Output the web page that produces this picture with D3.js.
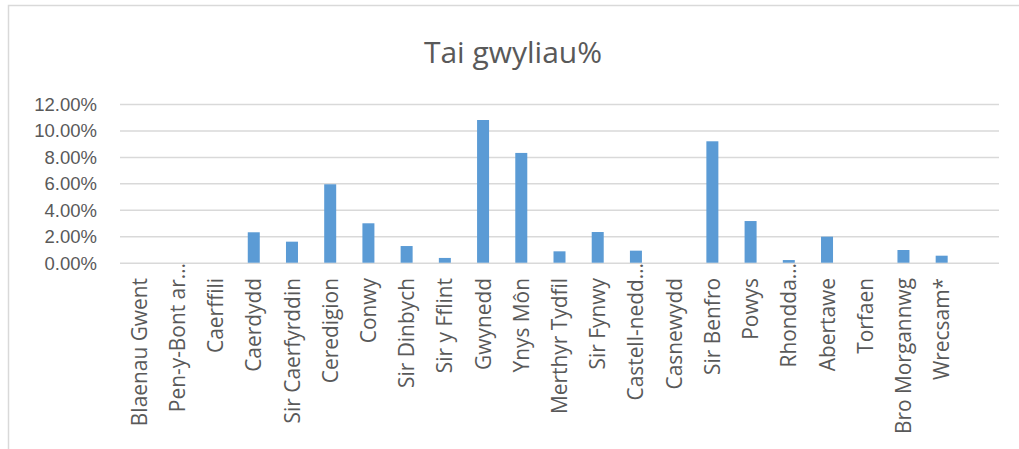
<!DOCTYPE html>
<html>
<head>
<meta charset="utf-8">
<script src="https://cdn.jsdelivr.net/npm/d3@7"></script>
<style>
  body { margin: 0; background: #fff; }
  svg { display: block; font-family: "Open Sans", sans-serif; }
  .title { font-size: 30px; fill: #595959; }
  .y-label { font-size: 18.5px; fill: #595959; }
  .x-label { font-size: 20.9px; fill: #595959; }
</style>
</head>
<body>
<svg id="chart" width="1019" height="449"></svg>
<script>
// Chart data
const categories = [
  "Blaenau Gwent", "Pen-y-Bont ar…", "Caerffili", "Caerdydd", "Sir Caerfyrddin",
  "Ceredigion", "Conwy", "Sir Dinbych", "Sir y Fflint", "Gwynedd", "Ynys Môn",
  "Merthyr Tydfil", "Sir Fynwy", "Castell-nedd…", "Casnewydd", "Sir Benfro",
  "Powys", "Rhondda…", "Abertawe", "Torfaen", "Bro Morgannwg", "Wrecsam*"
];
const values = [
  0, 0, 0, 0.0230, 0.0159,
  0.0593, 0.0298, 0.0126, 0.0036, 0.1079, 0.0830,
  0.0086, 0.0232, 0.0091, 0, 0.0918,
  0.0315, 0.0020, 0.0197, 0, 0.0096, 0.0053
];
const yTicks = [0, 0.02, 0.04, 0.06, 0.08, 0.10, 0.12];
const title = "Tai gwyliau%";

const data = categories.map((c, i) => ({ CATEGORY: c, METRIC_VALUE: values[i] }));

const dims = { left: 120, right: 999, top: 104, bottom: 262.7 };
const svg = d3.select("#chart");

// frame
svg.append("path")
  .attr("d", "M8.5,449 V5.5 H1019")
  .attr("fill", "none")
  .attr("stroke", "#d9d9d9")
  .attr("stroke-width", 1.5);

svg.append("text")
  .attr("class", "title")
  .attr("x", 513)
  .attr("y", 63)
  .attr("text-anchor", "middle")
  .text(title);

// Excel leaves one empty slot on the right
const slots = categories.length + 1;
const gap = 0.686;
const x = d3.scaleBand()
  .domain(categories)
  .range([dims.left, dims.left + (dims.right - dims.left) * categories.length / slots])
  .paddingInner(gap)
  .paddingOuter(gap / 2);

const y = d3.scaleLinear()
  .domain([0, 0.12])
  .range([dims.bottom, dims.top]);

const fmt = d3.format(".2%");

// gridlines + y labels
const yAxis = g => g
  .attr("transform", `translate(${dims.left},0)`)
  .call(d3.axisLeft(y).tickValues(yTicks).tickFormat(fmt).tickSize(-(dims.right - dims.left)).tickPadding(23))
  .call(g => g.select(".domain").remove())
  .call(g => g.selectAll(".tick line").attr("stroke", "#d9d9d9").attr("stroke-width", 1.5))
  .call(g => g.selectAll(".tick text")
    .attr("class", "y-label")
    .attr("font-size", null)
    .attr("font-family", null)
    .attr("dy", "0.35em"));

svg.append("g").call(yAxis);

// bars
svg.append("g")
  .selectAll("rect")
  .data(data)
  .enter()
  .append("rect")
    .attr("fill", "#5b9bd5")
    .attr("x", d => x(d.CATEGORY))
    .attr("y", d => y(d.METRIC_VALUE))
    .attr("width", x.bandwidth())
    .attr("height", d => y(0) - y(d.METRIC_VALUE));

// x labels, rotated
svg.append("g")
  .selectAll("text")
  .data(data)
  .enter()
  .append("text")
    .attr("class", "x-label")
    .attr("transform", d => `translate(${x(d.CATEGORY) + x.bandwidth() / 2},${d.CATEGORY.endsWith("…") ? 263 : 278}) rotate(-90)`)
    .attr("dy", "0.36em")
    .attr("text-anchor", "end")
    .text(d => d.CATEGORY);
</script>
</body>
</html>
